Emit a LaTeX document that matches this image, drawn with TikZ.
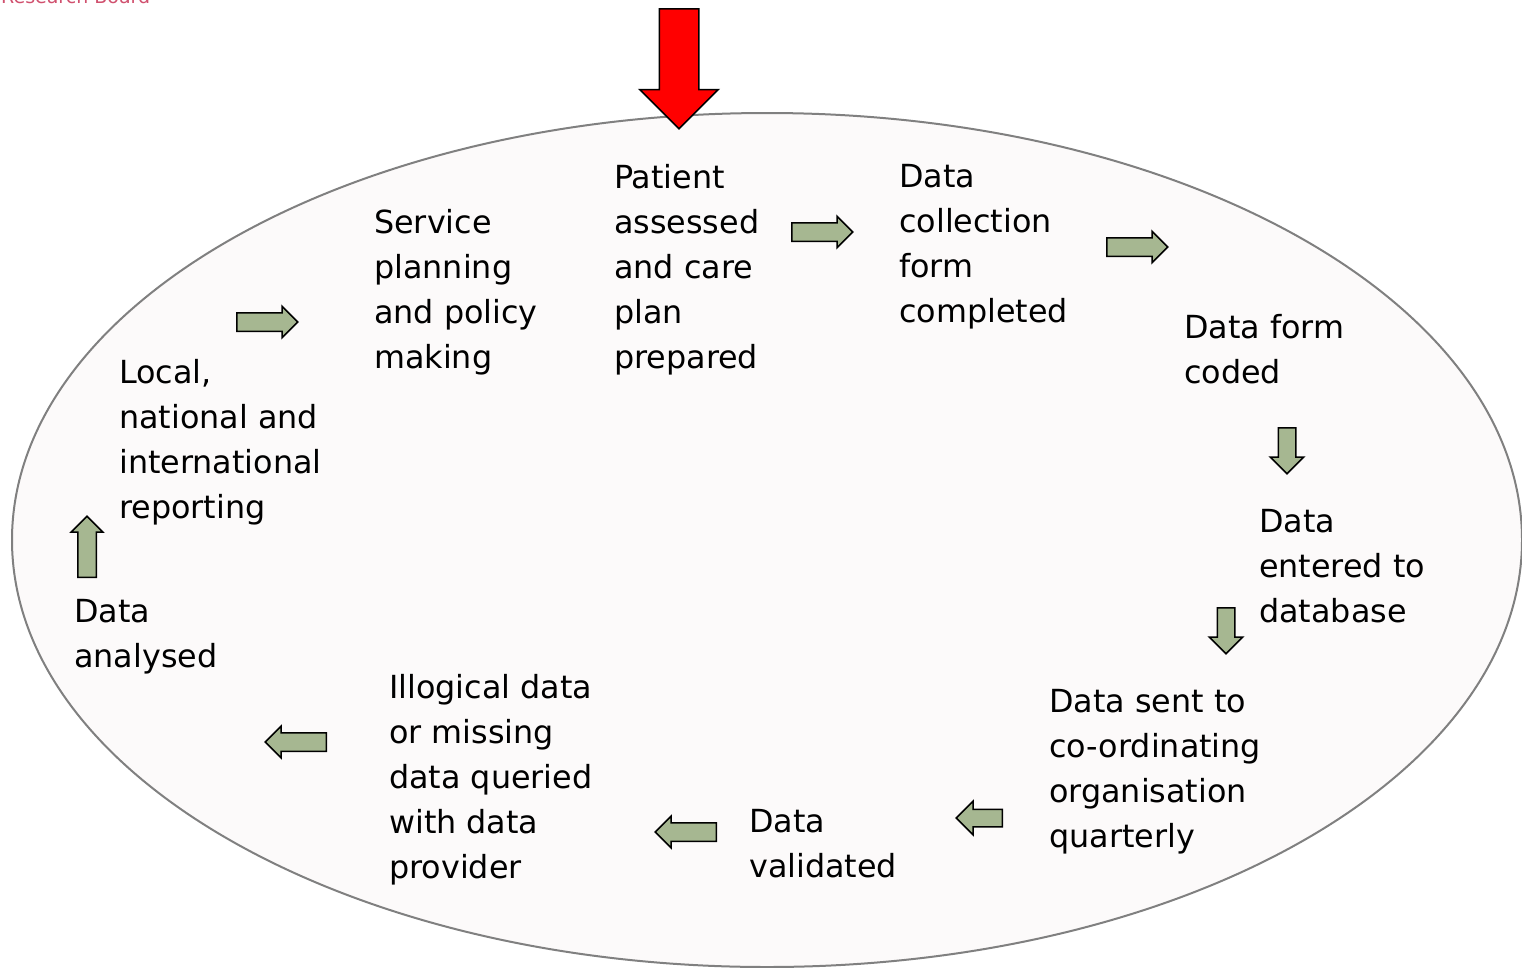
\documentclass[tikz,border=0pt]{standalone}
\usepackage{fontspec}
\setmainfont{DejaVu Sans}
\usetikzlibrary{shapes.arrows}
\definecolor{ellfill}{RGB}{252,250,250}
\definecolor{ellline}{RGB}{128,128,128}
\definecolor{arrgreen}{RGB}{166,183,145}
\definecolor{boardred}{RGB}{208,80,110}
\begin{document}
\begin{tikzpicture}[x=1pt,y=-1pt,
  lbl/.style={anchor=north west, inner sep=0pt, align=left, font=\fontsize{31.8}{45}\selectfont},
  garrow/.style={single arrow, draw=black, fill=arrgreen, line width=1.5pt, inner sep=8.5pt,
    minimum height=61pt, minimum width=30pt, single arrow head extend=6.5pt,
    single arrow tip angle=90, anchor=tail},
  sarrow/.style={garrow, inner sep=8pt, minimum height=46pt, minimum width=32pt, single arrow head extend=8pt},
  redarrow/.style={single arrow, draw=black, fill=red, line width=1.5pt, inner sep=19pt,
    minimum height=120pt, minimum width=77pt, single arrow head extend=19.5pt,
    single arrow tip angle=90, anchor=tail, shape border rotate=270}
]
\useasboundingbox (0,0) rectangle (1522,967);
\clip (0,0) rectangle (1522,967);

\node[anchor=base west, inner sep=0pt, text=boardred, font=\fontsize{19}{22}\selectfont] (board) at (1,3) {Research Board};

\draw[ellline, fill=ellfill, line width=2pt] (767,540) ellipse [x radius=755, y radius=427];

\node[redarrow] (start) at (679,8) {};

\node[lbl] (patient) at (614,164) {Patient\\assessed\\and care\\plan\\prepared};
\node[lbl] (collect) at (899,164) {Data\\collection\\form\\completed};
\node[lbl] (coded) at (1184,314) {Data form\\coded};
\node[lbl] (entered) at (1259,509) {Data\\entered to\\database};
\node[lbl] (sent) at (1049,689) {Data sent to\\co-ordinating\\organisation\\quarterly};
\node[lbl] (valid) at (749,809) {Data\\validated};
\node[lbl] (illog) at (389,674) {Illogical data\\or missing\\data queried\\with data\\provider};
\node[lbl] (analysed) at (74,599) {Data\\analysed};
\node[lbl] (report) at (119,359) {Local,\\national and\\international\\reporting};
\node[lbl] (service) at (374,209) {Service\\planning\\and policy\\making};

\node[garrow, shape border rotate=0] (a1) at (791,232) {};
\node[garrow, shape border rotate=0] (a2) at (1106,247) {};
\node[sarrow, shape border rotate=270] (a3) at (1287,427) {};
\node[sarrow, shape border rotate=270] (a4) at (1226,607) {};
\node[sarrow, shape border rotate=180] (a5) at (1003,818) {};
\node[garrow, shape border rotate=180] (a6) at (717,832) {};
\node[garrow, shape border rotate=180] (a7) at (327,742) {};
\node[garrow, shape border rotate=90] (a8) at (87,578) {};
\node[garrow, shape border rotate=0] (a9) at (236,322) {};
\end{tikzpicture}
\end{document}
